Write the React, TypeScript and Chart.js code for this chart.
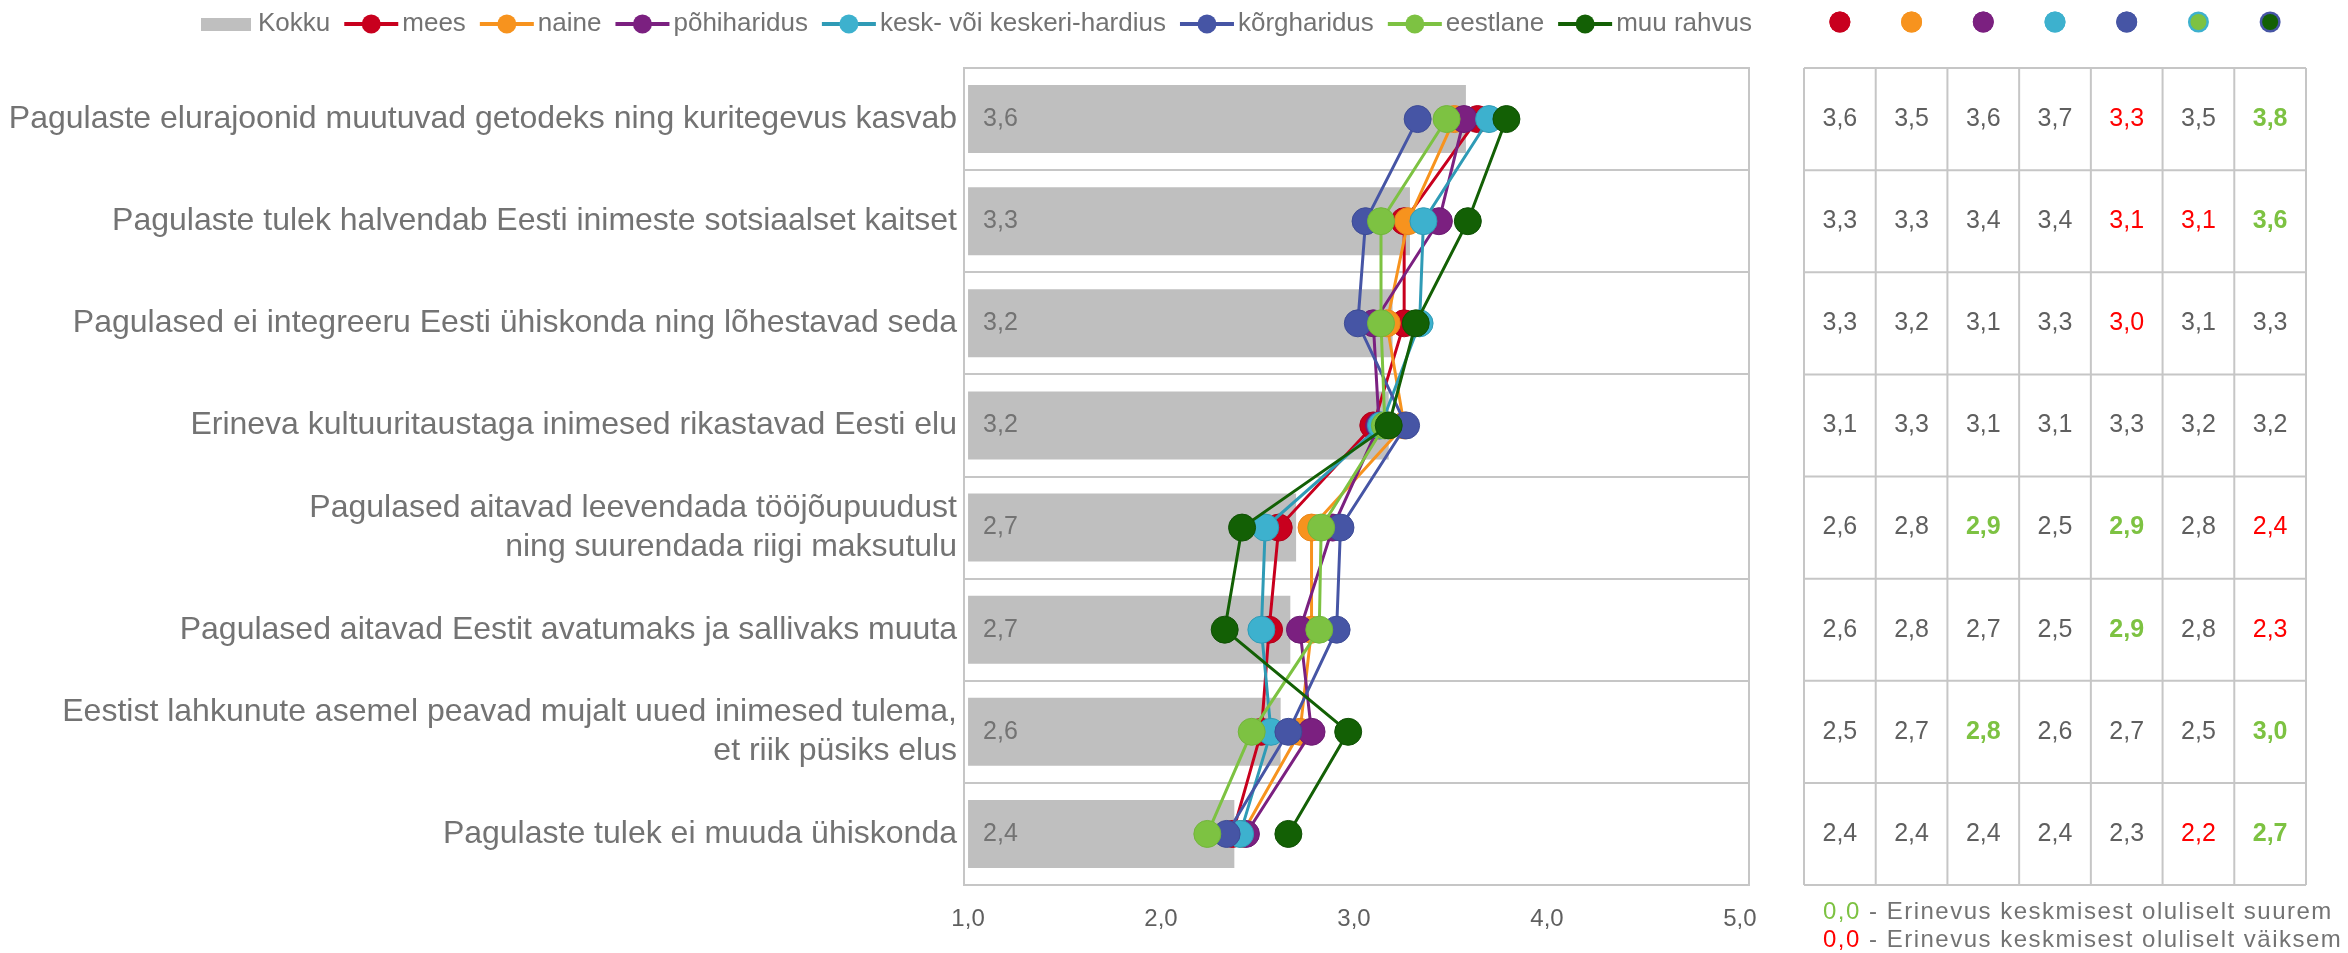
import React, { useEffect, useRef } from 'react';
import { Chart, registerables } from 'chart.js';

Chart.register(...registerables);

// ---------- data ----------
const categories: (string | string[])[] = [
  'Pagulaste elurajoonid muutuvad getodeks ning kuritegevus kasvab',
  'Pagulaste tulek halvendab Eesti inimeste sotsiaalset kaitset',
  'Pagulased ei integreeru Eesti ühiskonda ning lõhestavad seda',
  'Erineva kultuuritaustaga inimesed rikastavad Eesti elu',
  ['Pagulased aitavad leevendada tööjõupuudust', 'ning suurendada riigi maksutulu'],
  'Pagulased aitavad Eestit avatumaks ja sallivaks muuta',
  ['Eestist lahkunute asemel peavad mujalt uued inimesed tulema,', 'et riik püsiks elus'],
  'Pagulaste tulek ei muuda ühiskonda',
];

const kokkuLabel = 'Kokku';
const kokku = [3.58, 3.29, 3.2, 3.18, 2.7, 2.67, 2.62, 2.38];

const mees = [3.64, 3.26, 3.26, 3.1, 2.61, 2.56, 2.52, 2.37];
const naine = [3.52, 3.28, 3.17, 3.26, 2.78, 2.78, 2.72, 2.42];
const pohiharidus = [3.57, 3.44, 3.1, 3.13, 2.89, 2.72, 2.78, 2.44];
const keskharidus = [3.7, 3.36, 3.34, 3.14, 2.54, 2.52, 2.57, 2.41];
const korgharidus = [3.33, 3.06, 3.02, 3.27, 2.93, 2.91, 2.66, 2.34];
const eestlane = [3.48, 3.14, 3.14, 3.16, 2.83, 2.82, 2.47, 2.24];
const muuRahvus = [3.79, 3.59, 3.32, 3.18, 2.42, 2.33, 2.97, 2.66];

const seriesNames = [
  'mees',
  'naine',
  'põhiharidus',
  'kesk- või keskeri-hardius',
  'kõrgharidus',
  'eestlane',
  'muu rahvus',
];
const seriesValues = [mees, naine, pohiharidus, keskharidus, korgharidus, eestlane, muuRahvus];

// significance per row (columns in series order): 1 = larger, -1 = smaller, 0 = none
const significance = [
  [0, 0, 0, 0, -1, 0, 1],
  [0, 0, 0, 0, -1, -1, 1],
  [0, 0, 0, 0, -1, 0, 0],
  [0, 0, 0, 0, 0, 0, 0],
  [0, 0, 1, 0, 1, 0, -1],
  [0, 0, 0, 0, 1, 0, -1],
  [0, 0, 1, 0, 0, 0, 1],
  [0, 0, 0, 0, 0, -1, 1],
];

const xTicks = [1, 2, 3, 4, 5];
const footnoteSample = '0,0';
const footnoteTexts = [' - Erinevus keskmisest oluliselt suurem', ' - Erinevus keskmisest oluliselt väiksem'];

// ---------- styles ----------
const W = 2348;
const H = 953;
const FONT = '"Liberation Sans", Arial, sans-serif';
const TEXT = '#737373';
const TABLE_TEXT = '#5f5f5f';
const GRID = '#C6C6C6';
const BAR = '#BFBFBF';
const GREEN_SIG = '#7DC242';
const RED_SIG = '#FF0000';

const pointColors = ['#C8001E', '#F7931E', '#7B2080', '#3DB1CE', '#4655A5', '#7DC242', '#136005'];
const lineColors = ['#C8001E', '#F7931E', '#7B2080', '#2F9BB6', '#4655A5', '#7DC242', '#136005'];
const pointBorders = ['#B0001A', '#E8851A', '#6C1A72', '#2F9BB6', '#3D4B95', '#72B53B', '#0F5004'];
const headerDotBorders = ['#C8001E', '#F7931E', '#7B2080', '#3DB1CE', '#4655A5', '#3DB1CE', '#4655A5'];

const fmt = (v: number) => v.toFixed(1).replace('.', ',');

const decorPlugin = {
  id: 'decor',
  beforeDatasetsDraw(chart: any) {
    const { ctx, chartArea } = chart;
    ctx.save();
    ctx.strokeStyle = GRID;
    ctx.lineWidth = 2;
    ctx.strokeRect(chartArea.left, chartArea.top, chartArea.right - chartArea.left, chartArea.bottom - chartArea.top);
    ctx.restore();
  },
  afterDatasetsDraw(chart: any) {
    const { ctx } = chart;
    const xs = chart.scales.x;
    const ys = chart.scales.y;
    ctx.save();
    ctx.font = `25px ${FONT}`;
    ctx.fillStyle = TEXT;
    ctx.textAlign = 'left';
    ctx.textBaseline = 'middle';
    kokku.forEach((v, i) => {
      ctx.fillText(fmt(v), xs.getPixelForValue(1) + 15, ys.getPixelForValue(i));
    });
    ctx.restore();
  },
  afterDraw(chart: any) {
    const { ctx, chartArea } = chart;
    const ys = chart.scales.y;
    ctx.save();

    // ----- legend -----
    const cy = 24;
    let x = 201;
    ctx.font = `26px ${FONT}`;
    ctx.textBaseline = 'middle';
    ctx.textAlign = 'left';
    ctx.fillStyle = BAR;
    ctx.fillRect(x, 18, 50, 13);
    x += 57;
    ctx.fillStyle = TEXT;
    ctx.fillText(kokkuLabel, x, cy);
    x += ctx.measureText(kokkuLabel).width + 14;
    seriesNames.forEach((name, i) => {
      ctx.strokeStyle = lineColors[i];
      ctx.lineWidth = 4;
      ctx.beginPath();
      ctx.moveTo(x, cy);
      ctx.lineTo(x + 54, cy);
      ctx.stroke();
      ctx.fillStyle = pointColors[i];
      ctx.beginPath();
      ctx.arc(x + 27, cy, 9.5, 0, Math.PI * 2);
      ctx.fill();
      x += 58;
      ctx.fillStyle = TEXT;
      ctx.fillText(name, x, cy);
      x += ctx.measureText(name).width + 14;
    });

    // ----- table -----
    const tLeft = 1804;
    const tRight = 2306;
    const nCols = seriesNames.length;
    const colW = (tRight - tLeft) / nCols;
    const top = chartArea.top;
    const bottom = chartArea.bottom;
    const nRows = categories.length;
    const rowH = (bottom - top) / nRows;

    ctx.strokeStyle = GRID;
    ctx.lineWidth = 2;
    for (let c = 0; c <= nCols; c++) {
      const lx = tLeft + c * colW;
      ctx.beginPath();
      ctx.moveTo(lx, top);
      ctx.lineTo(lx, bottom);
      ctx.stroke();
    }
    for (let r = 0; r <= nRows; r++) {
      const ly = top + r * rowH;
      ctx.beginPath();
      ctx.moveTo(tLeft, ly);
      ctx.lineTo(tRight, ly);
      ctx.stroke();
    }

    // header dots
    for (let c = 0; c < nCols; c++) {
      const cx = tLeft + (c + 0.5) * colW;
      ctx.fillStyle = headerDotBorders[c];
      ctx.beginPath();
      ctx.arc(cx, 22, 10.5, 0, Math.PI * 2);
      ctx.fill();
      ctx.fillStyle = pointColors[c];
      ctx.beginPath();
      ctx.arc(cx, 22, headerDotBorders[c] === pointColors[c] ? 10.5 : 8, 0, Math.PI * 2);
      ctx.fill();
    }

    // cell values
    ctx.textAlign = 'center';
    ctx.textBaseline = 'middle';
    for (let r = 0; r < nRows; r++) {
      const cyR = ys.getPixelForValue(r);
      for (let c = 0; c < nCols; c++) {
        const sig = significance[r][c];
        ctx.font = `${sig > 0 ? 'bold ' : ''}25px ${FONT}`;
        ctx.fillStyle = sig > 0 ? GREEN_SIG : sig < 0 ? RED_SIG : TABLE_TEXT;
        ctx.fillText(fmt(seriesValues[c][r]), tLeft + (c + 0.5) * colW, cyR);
      }
    }

    // ----- footnote -----
    ctx.textAlign = 'left';
    ctx.font = `24px ${FONT}`;
    try {
      (ctx as any).letterSpacing = '1.5px';
    } catch (e) {}
    const fy = [912, 940];
    const sampleColors = [GREEN_SIG, RED_SIG];
    footnoteTexts.forEach((t, i) => {
      const fx = 1823;
      ctx.fillStyle = sampleColors[i];
      ctx.fillText(footnoteSample, fx, fy[i]);
      const w = ctx.measureText(footnoteSample).width;
      ctx.fillStyle = TEXT;
      ctx.fillText(t, fx + w, fy[i]);
    });
    try {
      (ctx as any).letterSpacing = '0px';
    } catch (e) {}

    ctx.restore();
  },
};

export default function App() {
  const ref = useRef<HTMLCanvasElement>(null);

  useEffect(() => {
    document.body.style.margin = '0';
    const canvas = ref.current;
    if (!canvas) return;

    const datasets: any[] = [
      {
        type: 'bar',
        label: kokkuLabel,
        data: kokku,
        backgroundColor: BAR,
        borderWidth: 0,
        base: 1,
        indexAxis: 'y',
        categoryPercentage: 1,
        barPercentage: 0.667,
        order: 100,
      },
      ...seriesNames.map((name, i) => ({
        type: 'line',
        label: name,
        data: seriesValues[i],
        indexAxis: 'y',
        borderColor: lineColors[i],
        backgroundColor: pointColors[i],
        borderWidth: 3,
        pointRadius: 13.5,
        pointBackgroundColor: pointColors[i],
        pointBorderColor: pointBorders[i],
        pointBorderWidth: 1,
        tension: 0,
        fill: false,
        order: 50 - i,
      })),
    ];

    const chart = new Chart(canvas, {
      type: 'bar',
      data: { labels: categories as any, datasets },
      options: {
        indexAxis: 'y',
        responsive: false,
        animation: false,
        devicePixelRatio: 1,
        events: [],
        layout: { padding: { left: 0, right: W - 1749, top: 68, bottom: 0 } },
        plugins: {
          legend: { display: false },
          tooltip: { enabled: false },
          title: { display: false },
        },
        scales: {
          x: {
            type: 'linear',
            min: 0.979,
            max: 5.047,
            grid: { display: false, drawTicks: false },
            border: { display: false },
            afterBuildTicks: (scale: any) => {
              scale.ticks = xTicks.map((v) => ({ value: v }));
            },
            afterFit: (scale: any) => {
              scale.height = H - 885;
            },
            ticks: {
              padding: 20,
              color: TABLE_TEXT,
              font: { family: FONT, size: 24 },
              callback: (v: any) => fmt(Number(v)),
            },
          },
          y: {
            type: 'category',
            offset: true,
            grid: { offset: true, color: GRID, lineWidth: 2, drawTicks: false },
            border: { display: false },
            afterFit: (scale: any) => {
              scale.width = 964;
            },
            ticks: {
              autoSkip: false,
              padding: 7,
              color: TEXT,
              font: { family: FONT, size: 32, lineHeight: 1.22 },
            },
          },
        },
      } as any,
      plugins: [decorPlugin],
    });

    return () => chart.destroy();
  }, []);

  return (
    <div style={{ width: W, height: H }}>
      <canvas ref={ref} width={W} height={H} style={{ display: 'block', width: W, height: H }} />
    </div>
  );
}
